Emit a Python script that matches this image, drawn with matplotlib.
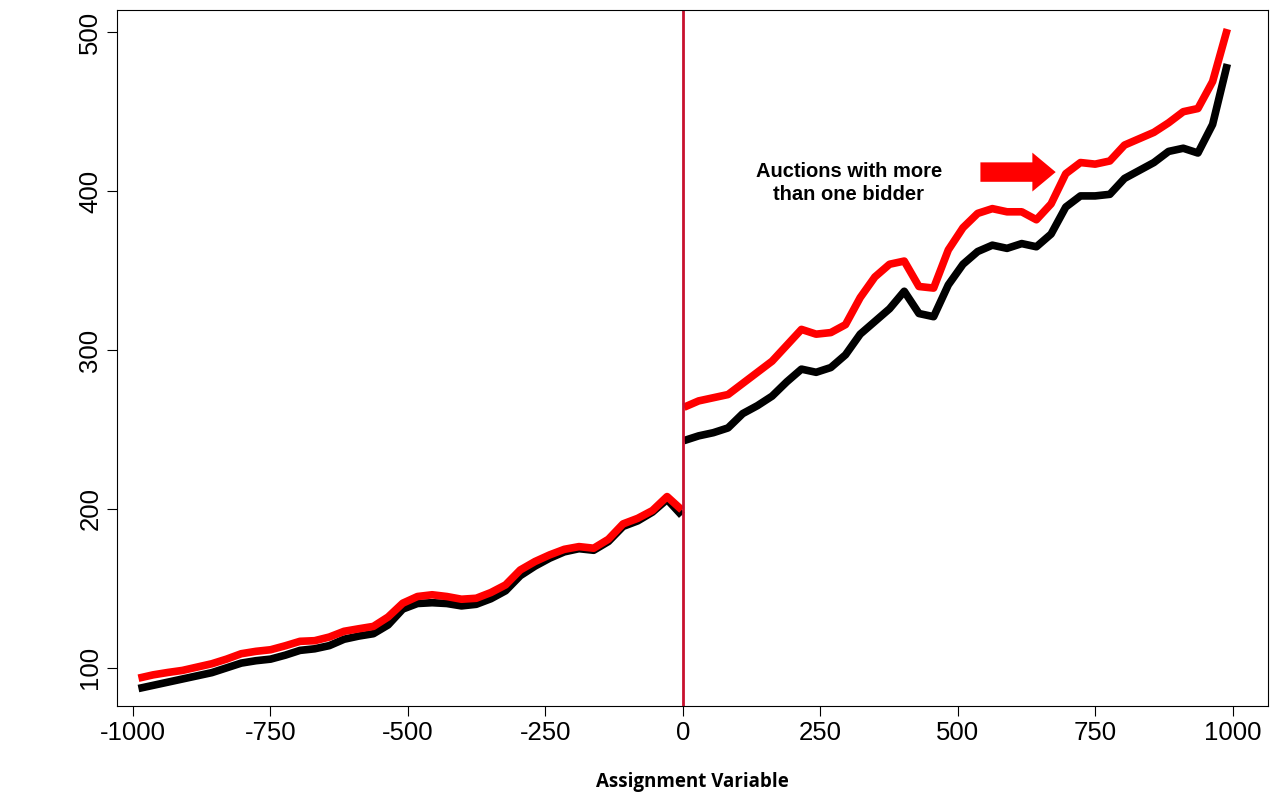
import numpy as np
import matplotlib
matplotlib.use("Agg")
import matplotlib.pyplot as plt

plt.rcParams['font.family'] = ['Liberation Sans', 'DejaVu Sans']
plt.rcParams['axes.unicode_minus'] = False

# bin centres, left and right of the cutoff
x_left = np.linspace(-990, -2, 38)
x_right = np.linspace(2, 990, 38)

red_left = [93.5, 95.6, 97.1, 98.4, 100.5, 102.6, 105.5, 108.9, 110.4, 111.4,
            113.9, 116.7, 117.1, 119.4, 123, 124.6, 126.1, 132, 140.7, 144.9,
            146, 144.9, 143.2, 143.8, 147.4, 152.2, 161.6, 166.9, 171.1, 174.6,
            176.3, 175.3, 180.9, 190.6, 194.1, 199, 207.8, 199.4]
black_left = [87, 89, 91, 93, 95, 97, 100, 103, 104.5, 105.5,
              108, 111, 112, 114, 118, 120, 121.5, 127, 137, 140.5,
              141, 140.5, 139, 140, 143.5, 148.5, 158, 164, 169, 173,
              175, 174, 179.5, 189, 192.5, 198, 206, 196]
red_right = [264, 268, 270, 272, 279, 286, 293, 303, 313, 310,
             311, 316, 333, 346, 354, 356, 340, 339, 363, 377,
             386, 389, 387, 387, 382, 392, 411, 418, 417, 419,
             429, 433, 437, 443, 450, 452, 469, 502]
black_right = [243, 246, 248, 251, 260, 265, 271, 280, 288, 286,
               289, 297, 310, 318, 326, 337, 323, 321, 341, 354,
               362, 366, 364, 367, 365, 373, 390, 397, 397, 398,
               408, 413, 418, 425, 427, 424, 442, 480]

fig = plt.figure(figsize=(12.8, 7.93), dpi=100)
ax = fig.add_axes([117/1280, 1 - 706/793, (1268-117)/1280, (706-10)/793])

for xs, b, r in [(x_left, black_left, red_left), (x_right, black_right, red_right)]:
    ax.plot(xs, b, color='black', lw=5.5, solid_capstyle='butt')
    ax.plot(xs, r, color='#ff0000', lw=5.5, solid_capstyle='butt')

ax.axvline(0, color='#c8102e', lw=2)

ax.set_xlim(-1029, 1064)
ax.set_ylim(76, 514)
ax.set_xticks([-1000, -750, -500, -250, 0, 250, 500, 750, 1000])
ax.set_yticks([100, 200, 300, 400, 500])
ax.tick_params(labelsize=18.5, length=7)
for lab in ax.get_yticklabels():
    lab.set_rotation(90)
    lab.set_va('center')
ax.set_xlabel('Assignment Variable', fontsize=13.5, fontweight='bold', labelpad=20,
              family=['Open Sans', 'DejaVu Sans'])

ax.text(302, 405, 'Auctions with more\nthan one bidder', ha='center', va='center',
        fontsize=14.5, fontweight='bold', linespacing=1.3)
ax.annotate('', xy=(683, 412), xytext=(536, 412),
            arrowprops=dict(arrowstyle='simple,head_width=2.0,head_length=1.2,tail_width=1.0',
                            color='#ff0000', lw=0, mutation_scale=14))

fig.savefig('out.png')
